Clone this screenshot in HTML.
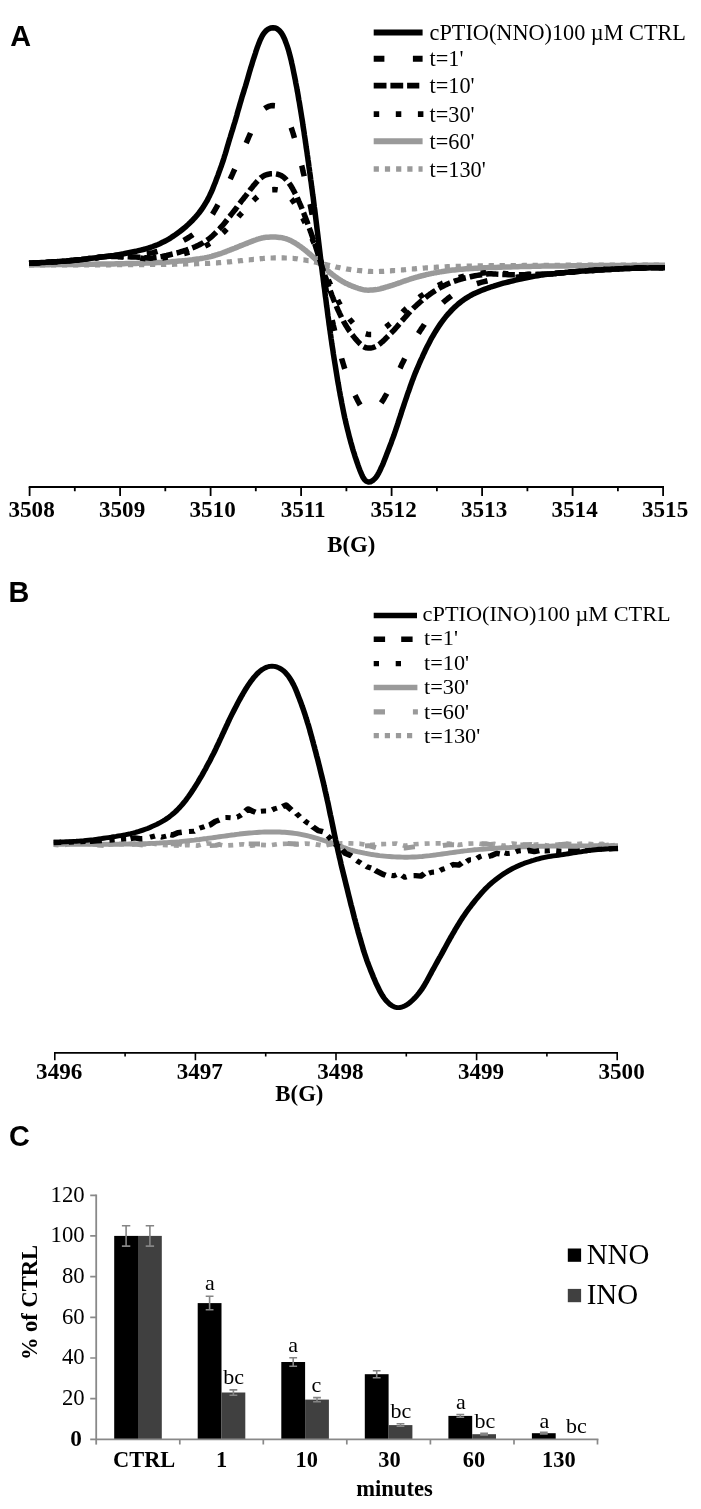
<!DOCTYPE html>
<html lang="en">
<head>
<meta charset="utf-8">
<title>cPTIO EPR spectra and decay</title>
<style>
html,body{margin:0;padding:0;background:#fff;}
body{width:701px;height:1509px;overflow:hidden;}
svg{display:block;}
</style>
</head>
<body>
<svg width="701" height="1509" viewBox="0 0 701 1509">
<rect width="701" height="1509" fill="#fff"/>
<g font-family="'Liberation Sans', sans-serif" font-weight="700" font-size="28.8" fill="#000">
<text x="10.3" y="46">A</text>
<text x="8.5" y="602.3">B</text>
<text x="8.9" y="1146.4">C</text>
</g>
<g id="panelA">
<path d="M29.0 264.9L35.0 264.9L37.5 264.9L40.0 264.9L42.5 264.9L45.0 264.9L47.5 264.9L50.0 264.9L52.5 264.9L55.0 264.9L57.5 264.9L60.0 264.9L62.5 264.9L65.0 264.9L67.5 264.9L70.0 264.9L72.5 264.9L75.0 264.9L77.5 264.9L80.0 264.9L82.5 264.9L85.0 264.8L87.5 264.8L89.9 264.8L92.4 264.8L94.9 264.8L97.4 264.8L99.9 264.8L102.4 264.8L104.9 264.8L107.4 264.8L109.8 264.8L112.3 264.7L114.8 264.7L117.3 264.7L119.8 264.7L122.2 264.7L124.7 264.7L127.2 264.7L129.7 264.7L132.1 264.6L134.6 264.6L137.0 264.6L139.5 264.6L141.9 264.6L144.4 264.6L146.8 264.6L149.2 264.5L151.7 264.5L154.1 264.5L156.5 264.5L158.8 264.4L161.2 264.4L163.5 264.4L165.8 264.4L168.1 264.3L170.3 264.3L172.5 264.3L174.7 264.2L176.8 264.2L178.9 264.1L181.0 264.1L183.1 264.1L185.1 264.0L187.1 264.0L189.0 263.9L191.0 263.9L192.8 263.8L194.7 263.8L196.5 263.7L198.3 263.7L200.0 263.6L201.7 263.6L203.3 263.5L204.9 263.4L206.4 263.4L207.9 263.3L209.3 263.3L210.6 263.2L211.9 263.1L213.2 263.1L214.3 263.0L215.5 262.9L216.5 262.9L217.6 262.8L218.6 262.7L219.5 262.7L220.4 262.6L221.4 262.5L222.2 262.4L223.1 262.4L224.0 262.3L224.8 262.2L225.7 262.2L226.5 262.1L227.4 262.0L228.2 261.9L229.0 261.9L229.8 261.8L230.5 261.7L231.3 261.7L232.0 261.6L232.7 261.5L233.4 261.4L234.1 261.4L234.8 261.3L235.5 261.2L236.3 261.2L237.0 261.1L237.7 261.0L238.5 260.9L239.2 260.9L239.9 260.8L240.7 260.7L241.4 260.7L242.1 260.6L242.8 260.5L243.4 260.4L244.1 260.4L244.8 260.3L245.5 260.2L246.2 260.2L246.9 260.1L247.6 260.0L248.3 259.9L249.1 259.9L249.8 259.8L250.5 259.7L251.3 259.6L252.0 259.6L252.7 259.5L253.4 259.4L254.1 259.4L254.8 259.3L255.5 259.2L256.2 259.1L256.9 259.1L257.7 259.0L258.4 258.9L259.1 258.9L259.9 258.8L260.7 258.7L261.5 258.6L262.2 258.6L263.0 258.5L263.9 258.4L264.8 258.4L265.7 258.3L266.7 258.2L267.9 258.1L269.1 258.1L270.6 258.0L272.3 258.0L274.4 257.9L276.6 257.9L279.0 257.9L281.4 257.9L283.5 257.9L285.4 258.0L287.1 258.0L288.5 258.1L289.6 258.2L290.7 258.2L291.6 258.3L292.5 258.4L293.3 258.4L294.1 258.5L294.8 258.6L295.4 258.7L296.1 258.7L296.7 258.8L297.3 258.9L297.8 259.0L298.4 259.0L298.9 259.1L299.4 259.2L299.9 259.2L300.4 259.3L300.9 259.4L301.4 259.5L301.8 259.5L302.3 259.6L302.8 259.7L303.2 259.8L303.7 259.8L304.1 259.9L304.5 260.0L304.9 260.1L305.4 260.1L305.8 260.2L306.2 260.3L306.6 260.4L307.0 260.4L307.4 260.5L307.8 260.6L308.2 260.7L308.6 260.7L308.9 260.8L309.3 260.9L309.7 260.9L310.1 261.0L310.4 261.1L310.8 261.2L311.2 261.2L311.5 261.3L311.9 261.4L312.2 261.5L312.6 261.5L313.0 261.6L313.3 261.7L313.7 261.8L314.0 261.8L314.4 261.9L314.7 262.0L315.0 262.1L315.4 262.1L315.7 262.2L316.1 262.3L316.4 262.4L316.7 262.4L317.1 262.5L317.4 262.6L317.7 262.7L318.1 262.7L318.4 262.8L318.7 262.9L319.1 263.0L319.4 263.0L319.7 263.1L320.0 263.2L320.3 263.3L320.7 263.3L321.0 263.4L321.3 263.5L321.6 263.6L321.9 263.6L322.2 263.7L322.5 263.8L322.8 263.9L323.1 263.9L323.4 264.0L323.7 264.1L324.0 264.2L324.3 264.2L324.6 264.3L324.9 264.4L325.2 264.4L325.5 264.5L325.8 264.6L326.1 264.7L326.4 264.7L326.7 264.8L327.0 264.9L327.3 265.0L327.6 265.0L327.9 265.1L328.2 265.2L328.5 265.3L328.9 265.3L329.2 265.4L329.5 265.5L329.8 265.6L330.1 265.6L330.5 265.7L330.8 265.8L331.1 265.9L331.4 265.9L331.8 266.0L332.1 266.1L332.4 266.2L332.7 266.2L333.1 266.3L333.4 266.4L333.7 266.5L334.0 266.5L334.4 266.6L334.7 266.7L335.0 266.8L335.4 266.8L335.7 266.9L336.1 267.0L336.4 267.1L336.8 267.1L337.1 267.2L337.5 267.3L337.8 267.4L338.2 267.4L338.6 267.5L339.0 267.6L339.3 267.7L339.7 267.7L340.1 267.8L340.5 267.9L340.9 268.0L341.3 268.0L341.7 268.1L342.1 268.2L342.5 268.2L342.9 268.3L343.3 268.4L343.7 268.5L344.1 268.5L344.6 268.6L345.0 268.7L345.4 268.8L345.9 268.8L346.3 268.9L346.8 269.0L347.3 269.1L347.7 269.1L348.2 269.2L348.7 269.3L349.2 269.4L349.7 269.4L350.2 269.5L350.7 269.6L351.3 269.7L351.8 269.7L352.4 269.8L353.0 269.9L353.6 269.9L354.2 270.0L354.8 270.1L355.4 270.2L356.1 270.2L356.7 270.3L357.4 270.4L358.1 270.5L358.8 270.5L359.5 270.6L360.3 270.7L361.0 270.7L361.8 270.8L362.6 270.9L363.4 271.0L364.2 271.0L365.1 271.1L366.0 271.2L367.0 271.2L368.0 271.3L369.2 271.4L370.6 271.4L372.3 271.5L374.4 271.5L376.5 271.5L378.6 271.5L380.5 271.4L382.2 271.4L383.6 271.3L384.9 271.2L386.1 271.2L387.1 271.1L388.2 271.0L389.2 270.9L390.1 270.9L391.0 270.8L391.9 270.7L392.8 270.7L393.7 270.6L394.6 270.5L395.5 270.5L396.4 270.4L397.3 270.3L398.1 270.3L399.0 270.2L399.9 270.1L400.7 270.0L401.5 270.0L402.3 269.9L403.1 269.8L403.9 269.8L404.6 269.7L405.4 269.6L406.2 269.5L407.0 269.5L407.7 269.4L408.5 269.3L409.3 269.3L410.1 269.2L410.9 269.1L411.7 269.0L412.5 269.0L413.3 268.9L414.1 268.8L415.0 268.8L415.8 268.7L416.6 268.6L417.5 268.5L418.3 268.5L419.2 268.4L420.1 268.3L421.0 268.3L422.0 268.2L422.9 268.1L423.9 268.1L424.9 268.0L425.9 267.9L426.9 267.8L428.0 267.8L429.0 267.7L430.1 267.6L431.1 267.6L432.2 267.5L433.3 267.4L434.5 267.4L435.6 267.3L436.8 267.2L438.0 267.2L439.3 267.1L440.5 267.0L441.8 267.0L443.2 266.9L444.5 266.9L445.9 266.8L447.3 266.7L448.8 266.7L450.3 266.6L451.9 266.5L453.5 266.5L455.2 266.4L456.9 266.4L458.6 266.3L460.4 266.3L462.3 266.2L464.2 266.2L466.1 266.1L468.1 266.1L470.1 266.0L472.2 266.0L474.3 266.0L476.5 265.9L478.7 265.9L481.0 265.8L483.3 265.8L485.6 265.8L487.9 265.8L490.2 265.7L492.6 265.7L495.0 265.7L497.3 265.7L499.7 265.6L502.1 265.6L504.5 265.6L506.9 265.6L509.3 265.5L511.7 265.5L514.2 265.5L516.6 265.5L519.0 265.5L521.5 265.5L523.9 265.4L526.4 265.4L528.8 265.4L531.3 265.4L533.7 265.4L536.2 265.4L538.6 265.3L541.1 265.3L543.6 265.3L546.0 265.3L548.5 265.3L551.0 265.3L553.5 265.3L556.0 265.3L558.5 265.3L561.0 265.3L563.5 265.2L565.9 265.2L568.4 265.2L570.9 265.2L573.4 265.2L575.9 265.2L578.4 265.2L580.9 265.2L583.4 265.2L585.9 265.2L588.4 265.2L590.9 265.2L593.4 265.2L595.9 265.2L598.4 265.2L600.9 265.2L603.4 265.2L605.9 265.1L608.4 265.1L610.9 265.1L613.4 265.1L615.9 265.1L618.4 265.1L620.9 265.1L623.4 265.1L625.9 265.1L628.4 265.1L630.9 265.1L633.4 265.1L635.9 265.1L638.4 265.1L640.9 265.1L643.4 265.1L646.0 265.1L648.5 265.1L651.0 265.1L653.5 265.1L656.0 265.1L658.5 265.1L661.0 265.1L663.5 265.1" fill="none" stroke="#9a9a9a" stroke-width="5.2" stroke-dasharray="5.2 5.8" stroke-linejoin="round"/>
<path d="M29.0 264.8L31.5 264.8L34.0 264.8L36.5 264.7L39.0 264.7L41.5 264.7L44.0 264.7L46.5 264.7L49.0 264.7L51.5 264.6L54.0 264.6L56.5 264.6L59.0 264.6L61.5 264.6L64.0 264.5L66.5 264.5L69.0 264.5L71.5 264.5L74.0 264.4L76.5 264.4L79.0 264.4L81.5 264.3L83.9 264.3L86.4 264.3L88.9 264.2L91.4 264.2L93.9 264.2L96.4 264.1L98.9 264.1L101.4 264.1L103.8 264.0L106.3 264.0L108.8 263.9L111.3 263.9L113.8 263.9L116.2 263.8L118.7 263.8L121.2 263.7L123.7 263.7L126.1 263.6L128.6 263.6L131.0 263.5L133.5 263.4L135.9 263.4L138.4 263.3L140.8 263.2L143.2 263.2L145.7 263.1L148.1 263.0L150.5 262.9L152.8 262.8L155.2 262.7L157.5 262.6L159.8 262.5L162.1 262.4L164.3 262.2L166.5 262.1L168.7 261.9L170.8 261.8L172.9 261.6L175.0 261.5L177.1 261.3L179.1 261.1L181.1 260.9L183.0 260.7L185.0 260.6L186.8 260.4L188.7 260.2L190.5 260.0L192.3 259.8L194.0 259.5L195.7 259.3L197.3 259.1L198.9 258.9L200.4 258.6L201.9 258.4L203.3 258.1L204.6 257.9L205.9 257.6L207.2 257.4L208.3 257.1L209.5 256.9L210.5 256.6L211.6 256.3L212.6 256.0L213.5 255.8L214.4 255.5L215.4 255.2L216.2 254.9L217.1 254.7L218.0 254.4L218.8 254.1L219.7 253.8L220.5 253.6L221.4 253.3L222.2 253.0L223.0 252.7L223.8 252.4L224.5 252.2L225.3 251.9L226.0 251.6L226.7 251.3L227.4 251.0L228.1 250.7L228.8 250.5L229.5 250.2L230.3 249.9L231.0 249.6L231.7 249.3L232.5 249.0L233.2 248.8L233.9 248.5L234.7 248.2L235.4 247.9L236.1 247.6L236.8 247.3L237.4 247.1L238.1 246.8L238.8 246.5L239.5 246.2L240.2 245.9L240.9 245.6L241.6 245.4L242.3 245.1L243.1 244.8L243.8 244.5L244.5 244.2L245.3 243.9L246.0 243.7L246.7 243.4L247.4 243.1L248.1 242.8L248.8 242.5L249.5 242.2L250.2 242.0L250.9 241.7L251.7 241.4L252.4 241.1L253.1 240.8L253.9 240.5L254.7 240.3L255.5 240.0L256.2 239.7L257.0 239.4L257.9 239.1L258.8 238.9L259.7 238.6L260.7 238.3L261.9 238.0L263.1 237.8L264.6 237.5L266.3 237.3L268.4 237.2L270.6 237.0L273.0 237.0L275.4 237.0L277.5 237.2L279.4 237.4L281.1 237.6L282.5 237.8L283.6 238.1L284.7 238.4L285.6 238.6L286.5 238.9L287.3 239.2L288.1 239.5L288.8 239.8L289.4 240.1L290.1 240.3L290.7 240.6L291.3 240.9L291.8 241.2L292.4 241.5L292.9 241.8L293.4 242.1L293.9 242.4L294.4 242.7L294.9 242.9L295.4 243.2L295.8 243.5L296.3 243.8L296.8 244.1L297.2 244.4L297.7 244.7L298.1 245.0L298.5 245.3L298.9 245.6L299.4 245.9L299.8 246.1L300.2 246.4L300.6 246.7L301.0 247.0L301.4 247.3L301.8 247.6L302.2 247.9L302.6 248.2L302.9 248.5L303.3 248.8L303.7 249.1L304.1 249.4L304.4 249.6L304.8 249.9L305.2 250.2L305.5 250.5L305.9 250.8L306.2 251.1L306.6 251.4L307.0 251.7L307.3 252.0L307.7 252.3L308.0 252.6L308.4 252.9L308.7 253.2L309.0 253.5L309.4 253.7L309.7 254.0L310.1 254.3L310.4 254.6L310.7 254.9L311.1 255.2L311.4 255.5L311.7 255.8L312.1 256.1L312.4 256.4L312.7 256.7L313.1 257.0L313.4 257.3L313.7 257.6L314.0 257.8L314.3 258.1L314.7 258.4L315.0 258.7L315.3 259.0L315.6 259.3L315.9 259.6L316.2 259.9L316.5 260.2L316.8 260.5L317.1 260.8L317.4 261.1L317.7 261.4L318.0 261.7L318.3 262.0L318.6 262.2L318.9 262.5L319.2 262.8L319.5 263.1L319.8 263.4L320.1 263.7L320.4 264.0L320.7 264.3L321.0 264.6L321.3 264.9L321.6 265.2L321.9 265.5L322.2 265.8L322.5 266.0L322.9 266.3L323.2 266.6L323.5 266.9L323.8 267.2L324.1 267.5L324.5 267.8L324.8 268.1L325.1 268.4L325.4 268.6L325.8 268.9L326.1 269.2L326.4 269.5L326.7 269.8L327.1 270.1L327.4 270.4L327.7 270.7L328.0 270.9L328.4 271.2L328.7 271.5L329.0 271.8L329.4 272.1L329.7 272.4L330.1 272.7L330.4 273.0L330.8 273.2L331.1 273.5L331.5 273.8L331.8 274.1L332.2 274.4L332.6 274.7L333.0 275.0L333.3 275.3L333.7 275.5L334.1 275.8L334.5 276.1L334.9 276.4L335.3 276.7L335.7 277.0L336.1 277.3L336.5 277.6L336.9 277.8L337.3 278.1L337.7 278.4L338.1 278.7L338.6 279.0L339.0 279.3L339.4 279.6L339.9 279.8L340.3 280.1L340.8 280.4L341.3 280.7L341.7 281.0L342.2 281.3L342.7 281.6L343.2 281.8L343.7 282.1L344.2 282.4L344.7 282.7L345.3 283.0L345.8 283.3L346.4 283.5L347.0 283.8L347.6 284.1L348.2 284.4L348.8 284.7L349.4 285.0L350.1 285.2L350.7 285.5L351.4 285.8L352.1 286.1L352.8 286.4L353.5 286.6L354.3 286.9L355.0 287.2L355.8 287.5L356.6 287.7L357.4 288.0L358.2 288.3L359.1 288.6L360.0 288.8L361.0 289.1L362.0 289.4L363.2 289.7L364.6 289.9L366.3 290.1L368.4 290.2L370.5 290.1L372.6 290.0L374.5 289.8L376.2 289.6L377.6 289.4L378.9 289.1L380.1 288.8L381.1 288.5L382.2 288.3L383.2 288.0L384.1 287.7L385.0 287.5L385.9 287.2L386.8 286.9L387.7 286.7L388.6 286.4L389.5 286.1L390.4 285.8L391.3 285.6L392.1 285.3L393.0 285.0L393.9 284.8L394.7 284.5L395.5 284.2L396.3 283.9L397.1 283.7L397.9 283.4L398.6 283.1L399.4 282.8L400.2 282.6L401.0 282.3L401.7 282.0L402.5 281.7L403.3 281.4L404.1 281.2L404.9 280.9L405.7 280.6L406.5 280.3L407.3 280.1L408.1 279.8L409.0 279.5L409.8 279.2L410.6 279.0L411.5 278.7L412.3 278.4L413.2 278.2L414.1 277.9L415.0 277.6L416.0 277.3L416.9 277.1L417.9 276.8L418.9 276.5L419.9 276.3L420.9 276.0L422.0 275.7L423.0 275.5L424.1 275.2L425.1 275.0L426.2 274.7L427.3 274.4L428.5 274.2L429.6 273.9L430.8 273.7L432.0 273.4L433.3 273.2L434.5 272.9L435.8 272.7L437.2 272.4L438.5 272.2L439.9 271.9L441.3 271.7L442.8 271.4L444.3 271.2L445.9 271.0L447.5 270.8L449.2 270.5L450.9 270.3L452.6 270.1L454.4 269.9L456.3 269.7L458.2 269.5L460.1 269.3L462.1 269.2L464.1 269.0L466.2 268.8L468.3 268.7L470.5 268.5L472.7 268.4L475.0 268.3L477.3 268.2L479.6 268.0L481.9 267.9L484.2 267.8L486.6 267.7L489.0 267.6L491.3 267.5L493.7 267.4L496.1 267.4L498.5 267.3L500.9 267.2L503.3 267.1L505.7 267.0L508.2 267.0L510.6 266.9L513.0 266.8L515.5 266.8L517.9 266.7L520.4 266.6L522.8 266.6L525.3 266.5L527.7 266.5L530.2 266.4L532.6 266.3L535.1 266.3L537.6 266.2L540.0 266.2L542.5 266.1L545.0 266.1L547.5 266.1L550.0 266.0L552.5 266.0L555.0 266.0L557.5 266.0L559.9 265.9L562.4 265.9L564.9 265.9L567.4 265.9L569.9 265.8L572.4 265.8L574.9 265.8L577.4 265.8L579.9 265.7L582.4 265.7L584.9 265.7L587.4 265.7L589.9 265.6L592.4 265.6L594.9 265.6L597.4 265.6L599.9 265.6L602.4 265.6L604.9 265.5L607.4 265.5L609.9 265.5L612.4 265.5L614.9 265.5L617.4 265.5L619.9 265.4L622.4 265.4L624.9 265.4L627.4 265.4L629.9 265.4L632.4 265.4L634.9 265.4L637.4 265.4L640.0 265.4L642.5 265.3L645.0 265.3L647.5 265.3L650.0 265.3L652.5 265.3L655.0 265.3L657.5 265.3L660.0 265.3L662.5 265.3L665.0 265.3" fill="none" stroke="#9a9a9a" stroke-width="5.5" stroke-linejoin="round"/>
<path d="M29.0 263.3L30.0 263.3L32.5 263.2L35.0 263.0L37.5 262.9L40.0 262.7L42.5 262.6L45.0 262.4L47.5 262.3L50.0 262.1L52.5 262.0L55.0 261.8L57.5 261.7L60.0 261.5L62.5 261.3L65.0 261.2L67.5 261.0L70.0 260.7L72.5 260.5L75.0 260.3L77.5 260.0L80.0 259.7L82.5 259.5L84.9 259.2L87.4 258.9L89.9 258.6L92.4 258.3L94.9 258.0L97.4 257.7L99.9 257.3L102.4 257.0L104.8 256.7L107.3 256.6L109.8 256.6L112.3 256.6L114.8 256.7L117.2 256.7L119.7 256.8L122.2 256.9L124.7 256.9L127.1 257.1L129.6 257.2L132.0 257.3L134.5 257.5L136.9 257.7L139.4 257.9L141.8 258.2L144.2 258.5L146.7 258.8L149.1 259.1L151.5 259.4L153.8 259.1L156.2 258.8L158.5 258.5L160.8 258.2L163.1 257.9L165.3 257.5L167.5 257.1L169.7 256.7L171.8 256.3L173.9 255.9L176.0 255.5L178.1 255.0L180.1 254.5L182.1 254.0L184.0 253.5L186.0 253.0L187.8 252.5L189.7 252.0L191.5 251.4L193.3 250.9L195.0 250.3L196.7 249.7L198.3 249.1L199.9 248.5L201.4 247.8L202.9 247.2L204.3 246.5L205.6 245.8L206.9 245.2L208.2 244.5L209.3 243.8L210.5 243.1L211.5 242.3L212.6 241.6L213.6 240.9L214.5 240.1L215.4 239.4L216.4 238.7L217.2 237.9L218.1 237.2L219.0 236.4L219.8 235.7L220.7 234.9L221.5 234.2L222.4 233.4L223.2 232.7L224.0 231.9L224.8 231.2L225.5 230.4L226.3 229.6L227.0 228.9L227.7 228.1L228.4 227.3L229.1 226.6L229.8 225.8L230.5 225.1L231.3 224.3L232.0 223.5L232.7 222.8L233.5 222.0L234.2 221.2L234.9 220.5L235.7 219.7L236.4 219.0L237.1 218.2L237.8 217.4L238.4 216.7L239.1 215.9L239.8 215.1L240.5 214.4L241.2 213.6L241.9 212.8L242.6 212.1L243.3 211.3L244.1 210.5L244.8 209.8L245.5 209.0L246.3 208.3L247.0 207.5L247.7 206.7L248.4 206.0L249.1 205.2L249.8 204.4L250.5 203.7L251.2 202.9L251.9 202.1L252.7 201.4L253.4 200.6L254.1 199.9L254.9 199.1L255.7 198.3L256.5 197.6L257.2 196.8L258.0 196.1L258.9 195.3L259.8 194.6L260.7 193.8L261.7 193.1L262.9 192.4L264.1 191.7L265.6 191.0L267.3 190.4L269.4 190.0L271.6 189.7L274.0 189.6L276.4 189.7L278.5 190.0L280.4 190.5L282.1 191.1L283.5 191.8L284.6 192.5L285.7 193.2L286.6 194.0L287.5 194.7L288.3 195.5L289.1 196.3L289.8 197.0L290.4 197.8L291.1 198.6L291.7 199.3L292.3 200.1L292.8 200.9L293.4 201.7L293.9 202.4L294.4 203.2L294.9 204.0L295.4 204.8L295.9 205.6L296.4 206.3L296.8 207.1L297.3 207.9L297.8 208.7L298.2 209.5L298.7 210.3L299.1 211.0L299.5 211.8L299.9 212.6L300.4 213.4L300.8 214.2L301.2 215.0L301.6 215.8L302.0 216.5L302.4 217.3L302.8 218.1L303.2 218.9L303.6 219.7L303.9 220.5L304.3 221.3L304.7 222.1L305.1 222.8L305.4 223.6L305.8 224.4L306.2 225.2L306.5 226.0L306.9 226.8L307.2 227.6L307.6 228.4L308.0 229.1L308.3 229.9L308.7 230.7L309.0 231.5L309.4 232.3L309.7 233.1L310.0 233.9L310.4 234.7L310.7 235.5L311.1 236.2L311.4 237.0L311.7 237.8L312.1 238.6L312.4 239.4L312.7 240.2L313.1 241.0L313.4 241.8L313.7 242.6L314.1 243.4L314.4 244.1L314.7 244.9L315.0 245.7L315.3 246.5L315.7 247.3L316.0 248.1L316.3 248.9L316.6 249.7L316.9 250.5L317.2 251.3L317.5 252.1L317.8 252.8L318.1 253.6L318.4 254.4L318.7 255.2L319.0 256.0L319.3 256.8L319.6 257.6L319.9 258.4L320.2 259.2L320.5 260.0L320.8 260.8L321.1 261.5L321.4 262.3L321.7 263.1L322.0 263.9L322.3 264.7L322.6 265.5L322.9 266.3L323.2 267.1L323.5 267.9L323.9 268.7L324.2 269.5L324.5 270.3L324.8 271.1L325.1 271.9L325.5 272.7L325.8 273.5L326.1 274.2L326.4 275.0L326.8 275.8L327.1 276.6L327.4 277.4L327.7 278.2L328.1 279.0L328.4 279.8L328.7 280.6L329.0 281.4L329.4 282.2L329.7 283.0L330.0 283.8L330.4 284.6L330.7 285.4L331.1 286.2L331.4 287.0L331.8 287.8L332.1 288.5L332.5 289.3L332.8 290.1L333.2 290.9L333.6 291.7L334.0 292.5L334.3 293.3L334.7 294.1L335.1 294.9L335.5 295.7L335.9 296.5L336.3 297.3L336.7 298.1L337.1 298.8L337.5 299.6L337.9 300.4L338.3 301.2L338.7 302.0L339.1 302.8L339.6 303.6L340.0 304.4L340.4 305.2L340.9 306.0L341.3 306.7L341.8 307.5L342.3 308.3L342.7 309.1L343.2 309.9L343.7 310.7L344.2 311.5L344.7 312.3L345.2 313.0L345.7 313.8L346.3 314.6L346.8 315.4L347.4 316.2L348.0 316.9L348.6 317.7L349.2 318.5L349.8 319.3L350.4 320.1L351.1 320.8L351.7 321.6L352.4 322.4L353.1 323.2L353.8 323.9L354.5 324.7L355.3 325.5L356.0 326.2L356.8 327.0L357.6 327.7L358.4 328.5L359.2 329.2L360.1 330.0L361.0 330.8L362.0 331.5L363.0 332.3L364.2 333.1L365.6 333.7L367.3 334.2L369.4 334.4L371.5 334.4L373.6 334.0L375.5 333.5L377.2 332.9L378.6 332.2L379.9 331.4L381.1 330.7L382.1 329.9L383.2 329.2L384.2 328.5L385.1 327.7L386.0 327.0L386.9 326.2L387.8 325.5L388.7 324.8L389.6 324.0L390.5 323.3L391.4 322.5L392.3 321.8L393.1 321.0L394.0 320.3L394.9 319.5L395.7 318.7L396.5 318.0L397.3 317.2L398.1 316.5L398.9 315.7L399.6 314.9L400.4 314.2L401.2 313.4L402.0 312.7L402.7 311.9L403.5 311.1L404.3 310.4L405.1 309.6L405.9 308.8L406.7 308.1L407.5 307.3L408.3 306.6L409.1 305.8L410.0 305.1L410.8 304.3L411.6 303.5L412.5 302.8L413.3 302.0L414.2 301.3L415.1 300.5L416.0 299.8L417.0 299.0L417.9 298.3L418.9 297.6L419.9 296.8L420.9 296.1L421.9 295.4L423.0 294.6L424.0 293.9L425.1 293.2L426.1 292.5L427.2 291.7L428.3 291.0L429.5 290.3L430.6 289.6L431.8 288.9L433.0 288.2L434.3 287.5L435.5 286.8L436.8 286.1L438.2 285.4L439.5 284.8L440.9 284.1L442.3 283.4L443.8 282.8L445.3 282.1L446.9 281.5L448.5 280.9L450.2 280.3L451.9 279.7L453.6 279.1L455.4 278.6L457.3 278.0L459.2 277.5L461.1 277.0L463.1 276.5L465.1 276.0L467.2 275.6L469.3 275.2L471.5 274.8L473.7 274.4L476.0 274.0L478.3 273.7L480.6 273.4L482.9 273.1L485.2 272.8L487.6 272.5L490.0 272.2L492.3 272.3L494.7 272.6L497.1 272.9L499.5 273.2L501.9 273.4L504.3 273.6L506.7 273.8L509.2 273.9L511.6 274.1L514.0 274.2L516.5 274.3L518.9 274.3L521.4 274.4L523.8 274.4L526.3 274.4L528.7 274.3L531.2 274.3L533.6 274.3L536.1 274.2L538.6 274.2L541.0 274.1L543.5 274.1L546.0 274.0L548.5 274.0L551.0 274.0L553.5 273.7L556.0 273.5L558.5 273.2L560.9 273.0L563.4 272.8L565.9 272.6L568.4 272.3L570.9 272.1L573.4 271.9L575.9 271.7L578.4 271.5L580.9 271.3L583.4 271.1L585.9 270.9L588.4 270.8L590.9 270.6L593.4 270.4L595.9 270.2L598.4 270.1L600.9 269.9L603.4 269.8L605.9 269.6L608.4 269.5L610.9 269.4L613.4 269.2L615.9 269.1L618.4 268.9L620.9 268.8L623.4 268.7L625.9 268.6L628.4 268.5L630.9 268.4L633.4 268.3L635.9 268.2L638.4 268.1L641.0 268.0L643.5 268.0L646.0 267.9L648.5 267.9L651.0 267.8L653.5 267.8L656.0 267.8L658.5 267.8L661.0 267.7L663.5 267.7" fill="none" stroke="#000" stroke-width="5.5" stroke-dasharray="5.5 16.8" stroke-linejoin="round"/>
<path d="M29.0 263.3L31.5 263.2L34.0 263.0L36.5 262.9L39.0 262.7L41.5 262.6L44.0 262.4L46.5 262.3L49.0 262.1L51.5 262.0L54.0 261.8L56.5 261.7L59.0 261.5L61.5 261.3L64.0 261.2L66.5 261.0L69.0 260.7L71.5 260.5L74.0 260.3L76.5 260.0L79.0 259.7L81.5 259.5L83.9 259.2L86.4 258.9L88.9 258.6L91.4 258.3L93.9 258.0L96.4 257.7L98.9 257.3L101.4 257.0L103.8 256.7L106.3 256.6L108.8 256.5L111.3 256.5L113.8 256.5L116.2 256.5L118.7 256.6L121.2 256.6L123.7 256.6L126.1 256.7L128.6 256.8L131.0 256.9L133.5 257.0L135.9 257.1L138.4 257.2L140.8 257.4L143.2 257.6L145.7 257.8L148.1 258.0L150.5 258.2L152.8 257.9L155.2 257.5L157.5 257.2L159.8 256.8L162.1 256.4L164.3 255.9L166.5 255.5L168.7 255.0L170.8 254.5L172.9 254.0L175.0 253.4L177.1 252.9L179.1 252.3L181.1 251.7L183.0 251.1L185.0 250.5L186.8 249.9L188.7 249.2L190.5 248.6L192.3 247.9L194.0 247.2L195.7 246.5L197.3 245.7L198.9 245.0L200.4 244.2L201.9 243.4L203.3 242.6L204.6 241.8L205.9 241.0L207.2 240.1L208.3 239.3L209.5 238.4L210.5 237.6L211.6 236.7L212.6 235.8L213.5 234.9L214.4 234.0L215.4 233.1L216.2 232.2L217.1 231.3L218.0 230.4L218.8 229.5L219.7 228.6L220.5 227.7L221.4 226.8L222.2 225.9L223.0 224.9L223.8 224.0L224.5 223.1L225.3 222.2L226.0 221.3L226.7 220.3L227.4 219.4L228.1 218.5L228.8 217.6L229.5 216.6L230.3 215.7L231.0 214.8L231.7 213.9L232.5 212.9L233.2 212.0L233.9 211.1L234.7 210.2L235.4 209.3L236.1 208.3L236.8 207.4L237.4 206.5L238.1 205.5L238.8 204.6L239.5 203.7L240.2 202.8L240.9 201.8L241.6 200.9L242.3 200.0L243.1 199.1L243.8 198.1L244.5 197.2L245.3 196.3L246.0 195.4L246.7 194.5L247.4 193.5L248.1 192.6L248.8 191.7L249.5 190.8L250.2 189.8L250.9 188.9L251.7 188.0L252.4 187.1L253.1 186.1L253.9 185.2L254.7 184.3L255.5 183.4L256.2 182.5L257.0 181.6L257.9 180.6L258.8 179.7L259.7 178.8L260.7 177.9L261.9 177.1L263.1 176.2L264.6 175.4L266.3 174.7L268.4 174.2L270.6 173.8L273.0 173.7L275.4 173.8L277.5 174.2L279.4 174.8L281.1 175.5L282.5 176.3L283.6 177.2L284.7 178.1L285.6 179.0L286.5 179.9L287.3 180.9L288.1 181.8L288.8 182.7L289.4 183.6L290.1 184.6L290.7 185.5L291.3 186.4L291.8 187.4L292.4 188.3L292.9 189.3L293.4 190.2L293.9 191.1L294.4 192.1L294.9 193.0L295.4 194.0L295.8 194.9L296.3 195.9L296.8 196.8L297.2 197.8L297.7 198.7L298.1 199.7L298.5 200.6L298.9 201.6L299.4 202.5L299.8 203.5L300.2 204.4L300.6 205.4L301.0 206.3L301.4 207.3L301.8 208.2L302.2 209.2L302.6 210.1L302.9 211.1L303.3 212.1L303.7 213.0L304.1 214.0L304.4 214.9L304.8 215.9L305.2 216.8L305.5 217.8L305.9 218.7L306.2 219.7L306.6 220.6L307.0 221.6L307.3 222.5L307.7 223.5L308.0 224.5L308.4 225.4L308.7 226.4L309.0 227.3L309.4 228.3L309.7 229.2L310.1 230.2L310.4 231.1L310.7 232.1L311.1 233.1L311.4 234.0L311.7 235.0L312.1 235.9L312.4 236.9L312.7 237.8L313.1 238.8L313.4 239.8L313.7 240.7L314.0 241.7L314.3 242.6L314.7 243.6L315.0 244.5L315.3 245.5L315.6 246.5L315.9 247.4L316.2 248.4L316.5 249.3L316.8 250.3L317.1 251.2L317.4 252.2L317.7 253.2L318.0 254.1L318.3 255.1L318.6 256.0L318.9 257.0L319.2 257.9L319.5 258.9L319.8 259.9L320.1 260.8L320.4 261.8L320.7 262.7L321.0 263.7L321.3 264.6L321.6 265.6L321.9 266.5L322.2 267.5L322.5 268.5L322.9 269.4L323.2 270.4L323.5 271.3L323.8 272.3L324.1 273.2L324.5 274.2L324.8 275.1L325.1 276.1L325.4 277.0L325.8 278.0L326.1 278.9L326.4 279.9L326.7 280.8L327.1 281.8L327.4 282.7L327.7 283.7L328.0 284.6L328.4 285.6L328.7 286.5L329.0 287.5L329.4 288.4L329.7 289.4L330.1 290.3L330.4 291.3L330.8 292.2L331.1 293.2L331.5 294.1L331.8 295.1L332.2 296.0L332.6 297.0L333.0 297.9L333.3 298.9L333.7 299.8L334.1 300.8L334.5 301.7L334.9 302.7L335.3 303.6L335.7 304.6L336.1 305.5L336.5 306.5L336.9 307.4L337.3 308.4L337.7 309.3L338.1 310.2L338.6 311.2L339.0 312.1L339.4 313.1L339.9 314.0L340.3 315.0L340.8 315.9L341.3 316.9L341.7 317.8L342.2 318.7L342.7 319.7L343.2 320.6L343.7 321.6L344.2 322.5L344.7 323.4L345.3 324.4L345.8 325.3L346.4 326.2L347.0 327.2L347.6 328.1L348.2 329.0L348.8 330.0L349.4 330.9L350.1 331.8L350.7 332.8L351.4 333.7L352.1 334.6L352.8 335.5L353.5 336.4L354.3 337.4L355.0 338.3L355.8 339.2L356.6 340.1L357.4 341.0L358.2 341.9L359.1 342.8L360.0 343.7L361.0 344.6L362.0 345.6L363.2 346.5L364.6 347.2L366.3 347.8L368.4 348.1L370.5 348.0L372.6 347.6L374.5 347.0L376.2 346.2L377.6 345.4L378.9 344.5L380.1 343.6L381.1 342.7L382.2 341.8L383.2 341.0L384.1 340.1L385.0 339.2L385.9 338.3L386.8 337.4L387.7 336.5L388.6 335.6L389.5 334.7L390.4 333.8L391.3 332.9L392.1 332.0L393.0 331.1L393.9 330.2L394.7 329.3L395.5 328.4L396.3 327.5L397.1 326.6L397.9 325.7L398.6 324.8L399.4 323.9L400.2 322.9L401.0 322.0L401.7 321.1L402.5 320.2L403.3 319.3L404.1 318.4L404.9 317.5L405.7 316.6L406.5 315.7L407.3 314.8L408.1 313.8L409.0 312.9L409.8 312.0L410.6 311.1L411.5 310.2L412.3 309.3L413.2 308.4L414.1 307.5L415.0 306.6L416.0 305.8L416.9 304.9L417.9 304.0L418.9 303.1L419.9 302.2L420.9 301.3L422.0 300.5L423.0 299.6L424.1 298.7L425.1 297.9L426.2 297.0L427.3 296.1L428.5 295.3L429.6 294.4L430.8 293.6L432.0 292.7L433.3 291.9L434.5 291.1L435.8 290.3L437.2 289.4L438.5 288.6L439.9 287.8L441.3 287.1L442.8 286.3L444.3 285.5L445.9 284.8L447.5 284.0L449.2 283.3L450.9 282.6L452.6 281.9L454.4 281.2L456.3 280.6L458.2 280.0L460.1 279.3L462.1 278.8L464.1 278.2L466.2 277.7L468.3 277.2L470.5 276.7L472.7 276.2L475.0 275.8L477.3 275.4L479.6 275.0L481.9 274.7L484.2 274.3L486.6 274.0L489.0 273.7L491.3 273.7L493.7 273.9L496.1 274.1L498.5 274.2L500.9 274.4L503.3 274.5L505.7 274.6L508.2 274.7L510.6 274.7L513.0 274.8L515.5 274.8L517.9 274.8L520.4 274.8L522.8 274.8L525.3 274.7L527.7 274.6L530.2 274.6L532.6 274.5L535.1 274.4L537.6 274.3L540.0 274.2L542.5 274.1L545.0 274.1L547.5 274.0L550.0 274.0L552.5 273.7L555.0 273.5L557.5 273.2L559.9 273.0L562.4 272.8L564.9 272.6L567.4 272.3L569.9 272.1L572.4 271.9L574.9 271.7L577.4 271.5L579.9 271.3L582.4 271.1L584.9 270.9L587.4 270.8L589.9 270.6L592.4 270.4L594.9 270.2L597.4 270.1L599.9 269.9L602.4 269.8L604.9 269.6L607.4 269.5L609.9 269.4L612.4 269.2L614.9 269.1L617.4 268.9L619.9 268.8L622.4 268.7L624.9 268.6L627.4 268.5L629.9 268.4L632.4 268.3L634.9 268.2L637.4 268.1L640.0 268.0L642.5 268.0L645.0 267.9L647.5 267.9L650.0 267.8L652.5 267.8L655.0 267.8L657.5 267.8L660.0 267.7L662.5 267.7L665.0 267.7" fill="none" stroke="#000" stroke-width="5.5" stroke-dasharray="12.5 4" stroke-linejoin="round"/>
<path d="M29.0 263.3L31.5 263.2L34.0 263.0L36.5 262.9L39.0 262.7L41.5 262.6L44.0 262.4L46.5 262.3L49.0 262.1L51.5 262.0L54.0 261.8L56.5 261.7L59.0 261.5L61.5 261.3L64.0 261.2L66.5 261.0L69.0 260.7L71.5 260.5L74.0 260.3L76.5 260.0L79.0 259.7L81.5 259.5L83.9 259.2L86.4 258.9L88.9 258.6L91.4 258.3L93.9 258.0L96.4 257.7L98.9 257.3L101.4 257.0L103.8 256.7L106.3 256.5L108.8 256.3L111.3 256.2L113.8 256.0L116.2 255.8L118.7 255.7L121.2 255.5L123.7 255.3L126.1 255.1L128.6 254.9L131.0 254.7L133.5 254.6L135.9 254.4L138.4 254.2L140.8 254.0L143.2 253.8L145.7 253.6L148.1 253.4L150.5 253.1L152.8 252.6L155.2 252.0L157.5 251.4L159.8 250.7L162.1 250.0L164.3 249.2L166.5 248.4L168.7 247.6L170.8 246.7L172.9 245.8L175.0 244.8L177.1 243.9L179.1 242.9L181.1 241.8L183.0 240.8L185.0 239.7L186.8 238.6L188.7 237.5L190.5 236.3L192.3 235.1L194.0 233.9L195.7 232.6L197.3 231.3L198.9 230.0L200.4 228.7L201.9 227.3L203.3 225.9L204.6 224.5L205.9 223.1L207.2 221.6L208.3 220.1L209.5 218.6L210.5 217.1L211.6 215.6L212.6 214.0L213.5 212.5L214.4 210.9L215.4 209.3L216.2 207.8L217.1 206.2L218.0 204.6L218.8 203.0L219.7 201.4L220.5 199.9L221.4 198.3L222.2 196.7L223.0 195.1L223.8 193.5L224.5 191.9L225.3 190.3L226.0 188.7L226.7 187.0L227.4 185.4L228.1 183.8L228.8 182.2L229.5 180.6L230.3 179.0L231.0 177.4L231.7 175.8L232.5 174.1L233.2 172.5L233.9 170.9L234.7 169.3L235.4 167.7L236.1 166.1L236.8 164.5L237.4 162.8L238.1 161.2L238.8 159.6L239.5 158.0L240.2 156.4L240.9 154.7L241.6 153.1L242.3 151.5L243.1 149.9L243.8 148.3L244.5 146.7L245.3 145.1L246.0 143.5L246.7 141.9L247.4 140.3L248.1 138.6L248.8 137.0L249.5 135.4L250.2 133.8L250.9 132.2L251.7 130.6L252.4 128.9L253.1 127.3L253.9 125.7L254.7 124.1L255.5 122.5L256.2 120.9L257.0 119.3L257.9 117.8L258.8 116.2L259.7 114.6L260.7 113.1L261.9 111.5L263.1 110.0L264.6 108.6L266.3 107.4L268.4 106.4L270.6 105.8L273.0 105.6L275.4 105.8L277.5 106.5L279.4 107.5L281.1 108.8L282.5 110.3L283.6 111.8L284.7 113.4L285.6 114.9L286.5 116.5L287.3 118.1L288.1 119.7L288.8 121.3L289.4 123.0L290.1 124.6L290.7 126.2L291.3 127.9L291.8 129.5L292.4 131.2L292.9 132.8L293.4 134.4L293.9 136.1L294.4 137.7L294.9 139.4L295.4 141.0L295.8 142.7L296.3 144.4L296.8 146.0L297.2 147.7L297.7 149.3L298.1 151.0L298.5 152.6L298.9 154.3L299.4 156.0L299.8 157.6L300.2 159.3L300.6 160.9L301.0 162.6L301.4 164.3L301.8 165.9L302.2 167.6L302.6 169.3L302.9 170.9L303.3 172.6L303.7 174.2L304.1 175.9L304.4 177.6L304.8 179.2L305.2 180.9L305.5 182.6L305.9 184.2L306.2 185.9L306.6 187.6L307.0 189.2L307.3 190.9L307.7 192.6L308.0 194.2L308.4 195.9L308.7 197.6L309.0 199.2L309.4 200.9L309.7 202.6L310.1 204.2L310.4 205.9L310.7 207.6L311.1 209.2L311.4 210.9L311.7 212.6L312.1 214.3L312.4 215.9L312.7 217.6L313.1 219.3L313.4 220.9L313.7 222.6L314.0 224.3L314.3 225.9L314.7 227.6L315.0 229.3L315.3 231.0L315.6 232.6L315.9 234.3L316.2 236.0L316.5 237.6L316.8 239.3L317.1 241.0L317.4 242.6L317.7 244.3L318.0 246.0L318.3 247.7L318.6 249.3L318.9 251.0L319.2 252.7L319.5 254.3L319.8 256.0L320.1 257.7L320.4 259.4L320.7 261.0L321.0 262.7L321.3 264.4L321.6 266.1L321.9 267.8L322.2 269.4L322.5 271.1L322.9 272.8L323.2 274.5L323.5 276.2L323.8 277.9L324.1 279.6L324.5 281.3L324.8 283.0L325.1 284.6L325.4 286.3L325.8 288.0L326.1 289.7L326.4 291.4L326.7 293.1L327.1 294.8L327.4 296.5L327.7 298.2L328.0 299.8L328.4 301.5L328.7 303.2L329.0 304.9L329.4 306.6L329.7 308.3L330.1 310.0L330.4 311.7L330.8 313.3L331.1 315.0L331.5 316.7L331.8 318.4L332.2 320.1L332.6 321.8L333.0 323.5L333.3 325.1L333.7 326.8L334.1 328.5L334.5 330.2L334.9 331.9L335.3 333.6L335.7 335.2L336.1 336.9L336.5 338.6L336.9 340.3L337.3 342.0L337.7 343.6L338.1 345.3L338.6 347.0L339.0 348.7L339.4 350.4L339.9 352.0L340.3 353.7L340.8 355.4L341.3 357.1L341.7 358.7L342.2 360.4L342.7 362.1L343.2 363.7L343.7 365.4L344.2 367.1L344.7 368.7L345.3 370.4L345.8 372.1L346.4 373.7L347.0 375.4L347.6 377.0L348.2 378.7L348.8 380.4L349.4 382.0L350.1 383.7L350.7 385.3L351.4 386.9L352.1 388.6L352.8 390.2L353.5 391.9L354.3 393.5L355.0 395.1L355.8 396.7L356.6 398.3L357.4 399.9L358.2 401.5L359.1 403.1L360.0 404.7L361.0 406.4L362.0 408.0L363.2 409.6L364.6 411.0L366.3 412.0L368.4 412.6L370.5 412.4L372.6 411.6L374.5 410.5L376.2 409.2L377.6 407.7L378.9 406.2L380.1 404.6L381.1 403.0L382.2 401.4L383.2 399.9L384.1 398.3L385.0 396.7L385.9 395.1L386.8 393.6L387.7 392.0L388.6 390.4L389.5 388.8L390.4 387.2L391.3 385.6L392.1 384.0L393.0 382.4L393.9 380.8L394.7 379.2L395.5 377.6L396.3 376.0L397.1 374.4L397.9 372.7L398.6 371.1L399.4 369.5L400.2 367.9L401.0 366.3L401.7 364.6L402.5 363.0L403.3 361.4L404.1 359.8L404.9 358.2L405.7 356.6L406.5 355.0L407.3 353.3L408.1 351.7L409.0 350.1L409.8 348.5L410.6 346.9L411.5 345.3L412.3 343.7L413.2 342.1L414.1 340.5L415.0 338.9L416.0 337.4L416.9 335.8L417.9 334.2L418.9 332.6L419.9 331.1L420.9 329.5L422.0 328.0L423.0 326.4L424.1 324.9L425.1 323.3L426.2 321.8L427.3 320.3L428.5 318.8L429.6 317.3L430.8 315.8L432.0 314.3L433.3 312.8L434.5 311.3L435.8 309.9L437.2 308.4L438.5 307.0L439.9 305.6L441.3 304.2L442.8 302.8L444.3 301.4L445.9 300.1L447.5 298.8L449.2 297.5L450.9 296.3L452.6 295.0L454.4 293.8L456.3 292.7L458.2 291.6L460.1 290.5L462.1 289.4L464.1 288.4L466.2 287.5L468.3 286.6L470.5 285.7L472.7 285.0L475.0 284.2L477.3 283.5L479.6 282.8L481.9 282.2L484.2 281.6L486.6 281.0L489.0 280.4L491.3 280.0L493.7 279.7L496.1 279.5L498.5 279.2L500.9 279.0L503.3 278.7L505.7 278.4L508.2 278.2L510.6 277.9L513.0 277.7L515.5 277.4L517.9 277.1L520.4 276.9L522.8 276.6L525.3 276.3L527.7 276.0L530.2 275.7L532.6 275.5L535.1 275.2L537.6 275.0L540.0 274.7L542.5 274.5L545.0 274.3L547.5 274.1L550.0 274.0L552.5 273.7L555.0 273.5L557.5 273.2L559.9 273.0L562.4 272.8L564.9 272.6L567.4 272.3L569.9 272.1L572.4 271.9L574.9 271.7L577.4 271.5L579.9 271.3L582.4 271.1L584.9 270.9L587.4 270.8L589.9 270.6L592.4 270.4L594.9 270.2L597.4 270.1L599.9 269.9L602.4 269.8L604.9 269.6L607.4 269.5L609.9 269.4L612.4 269.2L614.9 269.1L617.4 268.9L619.9 268.8L622.4 268.7L624.9 268.6L627.4 268.5L629.9 268.4L632.4 268.3L634.9 268.2L637.4 268.1L640.0 268.0L642.5 268.0L645.0 267.9L647.5 267.9L650.0 267.8L652.5 267.8L655.0 267.8L657.5 267.8L660.0 267.7L662.5 267.7L665.0 267.7" fill="none" stroke="#000" stroke-width="5.5" stroke-dasharray="11 28.4" stroke-linejoin="round"/>
<path d="M29.0 263.3L31.5 263.2L34.0 263.0L36.5 262.9L39.0 262.7L41.5 262.6L44.0 262.4L46.5 262.3L49.0 262.1L51.5 262.0L54.0 261.8L56.5 261.7L59.0 261.5L61.5 261.3L64.0 261.2L66.5 261.0L69.0 260.7L71.5 260.5L74.0 260.3L76.5 260.0L79.0 259.7L81.5 259.5L83.9 259.2L86.4 258.9L88.9 258.6L91.4 258.3L93.9 258.0L96.4 257.7L98.9 257.3L101.4 257.0L103.8 256.7L106.3 256.4L108.8 256.1L111.3 255.7L113.8 255.4L116.2 255.0L118.7 254.6L121.2 254.2L123.7 253.8L126.1 253.3L128.6 252.8L131.0 252.3L133.5 251.8L135.9 251.3L138.4 250.7L140.8 250.1L143.2 249.5L145.7 248.8L148.1 248.1L150.5 247.3L152.8 246.5L155.2 245.6L157.5 244.7L159.8 243.7L162.1 242.6L164.3 241.5L166.5 240.3L168.7 239.1L170.8 237.8L172.9 236.4L175.0 235.0L177.1 233.5L179.1 232.1L181.1 230.5L183.0 229.0L185.0 227.4L186.8 225.7L188.7 224.0L190.5 222.3L192.3 220.5L194.0 218.7L195.7 216.8L197.3 214.9L198.9 213.0L200.4 211.0L201.9 209.0L203.3 206.9L204.6 204.8L205.9 202.6L207.2 200.5L208.3 198.2L209.5 196.0L210.5 193.7L211.6 191.5L212.6 189.1L213.5 186.8L214.4 184.5L215.4 182.2L216.2 179.8L217.1 177.5L218.0 175.1L218.8 172.8L219.7 170.4L220.5 168.1L221.4 165.7L222.2 163.3L223.0 161.0L223.8 158.6L224.5 156.2L225.3 153.8L226.0 151.4L226.7 149.0L227.4 146.6L228.1 144.2L228.8 141.8L229.5 139.4L230.3 137.0L231.0 134.6L231.7 132.2L232.5 129.8L233.2 127.4L233.9 125.0L234.7 122.6L235.4 120.2L236.1 117.8L236.8 115.4L237.4 113.0L238.1 110.6L238.8 108.2L239.5 105.7L240.2 103.3L240.9 100.9L241.6 98.5L242.3 96.1L243.1 93.7L243.8 91.4L244.5 89.0L245.3 86.6L246.0 84.2L246.7 81.8L247.4 79.4L248.1 77.0L248.8 74.5L249.5 72.1L250.2 69.7L250.9 67.3L251.7 64.9L252.4 62.5L253.1 60.2L253.9 57.8L254.7 55.4L255.5 53.0L256.2 50.6L257.0 48.3L257.9 45.9L258.8 43.5L259.7 41.2L260.7 38.9L261.9 36.6L263.1 34.4L264.6 32.3L266.3 30.5L268.4 29.0L270.6 28.1L273.0 27.8L275.4 28.1L277.5 29.1L279.4 30.7L281.1 32.6L282.5 34.7L283.6 37.0L284.7 39.3L285.6 41.7L286.5 44.1L287.3 46.4L288.1 48.8L288.8 51.2L289.4 53.6L290.1 56.1L290.7 58.5L291.3 60.9L291.8 63.4L292.4 65.8L292.9 68.3L293.4 70.7L293.9 73.2L294.4 75.6L294.9 78.1L295.4 80.5L295.8 83.0L296.3 85.5L296.8 87.9L297.2 90.4L297.7 92.9L298.1 95.3L298.5 97.8L298.9 100.3L299.4 102.7L299.8 105.2L300.2 107.7L300.6 110.1L301.0 112.6L301.4 115.1L301.8 117.6L302.2 120.0L302.6 122.5L302.9 125.0L303.3 127.5L303.7 130.0L304.1 132.4L304.4 134.9L304.8 137.4L305.2 139.9L305.5 142.3L305.9 144.8L306.2 147.3L306.6 149.8L307.0 152.3L307.3 154.7L307.7 157.2L308.0 159.7L308.4 162.2L308.7 164.7L309.0 167.1L309.4 169.6L309.7 172.1L310.1 174.6L310.4 177.1L310.7 179.6L311.1 182.0L311.4 184.5L311.7 187.0L312.1 189.5L312.4 192.0L312.7 194.5L313.1 196.9L313.4 199.4L313.7 201.9L314.0 204.4L314.3 206.9L314.7 209.4L315.0 211.8L315.3 214.3L315.6 216.8L315.9 219.3L316.2 221.8L316.5 224.3L316.8 226.8L317.1 229.3L317.4 231.7L317.7 234.2L318.0 236.7L318.3 239.2L318.6 241.7L318.9 244.2L319.2 246.7L319.5 249.1L319.8 251.6L320.1 254.1L320.4 256.6L320.7 259.1L321.0 261.6L321.3 264.1L321.6 266.6L321.9 269.0L322.2 271.5L322.5 274.0L322.9 276.5L323.2 279.0L323.5 281.5L323.8 284.0L324.1 286.4L324.5 288.9L324.8 291.4L325.1 293.9L325.4 296.4L325.8 298.9L326.1 301.3L326.4 303.8L326.7 306.3L327.1 308.8L327.4 311.3L327.7 313.8L328.0 316.2L328.4 318.7L328.7 321.2L329.0 323.7L329.4 326.2L329.7 328.7L330.1 331.1L330.4 333.6L330.8 336.1L331.1 338.6L331.5 341.1L331.8 343.5L332.2 346.0L332.6 348.5L333.0 351.0L333.3 353.4L333.7 355.9L334.1 358.4L334.5 360.9L334.9 363.4L335.3 365.8L335.7 368.3L336.1 370.8L336.5 373.2L336.9 375.7L337.3 378.2L337.7 380.7L338.1 383.1L338.6 385.6L339.0 388.1L339.4 390.5L339.9 393.0L340.3 395.5L340.8 397.9L341.3 400.4L341.7 402.8L342.2 405.3L342.7 407.8L343.2 410.2L343.7 412.7L344.2 415.1L344.7 417.6L345.3 420.0L345.8 422.5L346.4 424.9L347.0 427.3L347.6 429.8L348.2 432.2L348.8 434.6L349.4 437.1L350.1 439.5L350.7 441.9L351.4 444.3L352.1 446.7L352.8 449.2L353.5 451.5L354.3 453.9L355.0 456.3L355.8 458.7L356.6 461.0L357.4 463.4L358.2 465.7L359.1 468.1L360.0 470.5L361.0 472.9L362.0 475.3L363.2 477.7L364.6 479.7L366.3 481.2L368.4 482.0L370.5 481.7L372.6 480.6L374.5 479.0L376.2 477.1L377.6 474.9L378.9 472.6L380.1 470.3L381.1 467.9L382.2 465.6L383.2 463.3L384.1 461.0L385.0 458.7L385.9 456.4L386.8 454.1L387.7 451.7L388.6 449.4L389.5 447.1L390.4 444.7L391.3 442.4L392.1 440.0L393.0 437.7L393.9 435.3L394.7 432.9L395.5 430.6L396.3 428.2L397.1 425.8L397.9 423.4L398.6 421.1L399.4 418.7L400.2 416.3L401.0 413.9L401.7 411.5L402.5 409.2L403.3 406.8L404.1 404.4L404.9 402.0L405.7 399.7L406.5 397.3L407.3 394.9L408.1 392.5L409.0 390.2L409.8 387.8L410.6 385.4L411.5 383.1L412.3 380.7L413.2 378.4L414.1 376.1L415.0 373.7L416.0 371.4L416.9 369.1L417.9 366.8L418.9 364.5L419.9 362.2L420.9 359.9L422.0 357.6L423.0 355.3L424.1 353.1L425.1 350.8L426.2 348.5L427.3 346.3L428.5 344.1L429.6 341.9L430.8 339.6L432.0 337.4L433.3 335.3L434.5 333.1L435.8 331.0L437.2 328.8L438.5 326.7L439.9 324.6L441.3 322.6L442.8 320.6L444.3 318.6L445.9 316.6L447.5 314.7L449.2 312.8L450.9 311.0L452.6 309.2L454.4 307.4L456.3 305.7L458.2 304.0L460.1 302.5L462.1 300.9L464.1 299.5L466.2 298.1L468.3 296.8L470.5 295.5L472.7 294.3L475.0 293.2L477.3 292.2L479.6 291.2L481.9 290.3L484.2 289.4L486.6 288.5L489.0 287.7L491.3 286.8L493.7 286.1L496.1 285.3L498.5 284.6L500.9 283.9L503.3 283.2L505.7 282.6L508.2 282.0L510.6 281.4L513.0 280.8L515.5 280.2L517.9 279.6L520.4 279.1L522.8 278.5L525.3 278.0L527.7 277.5L530.2 277.0L532.6 276.5L535.1 276.1L537.6 275.7L540.0 275.3L542.5 274.9L545.0 274.6L547.5 274.3L550.0 274.0L552.5 273.7L555.0 273.5L557.5 273.2L559.9 273.0L562.4 272.8L564.9 272.6L567.4 272.3L569.9 272.1L572.4 271.9L574.9 271.7L577.4 271.5L579.9 271.3L582.4 271.1L584.9 270.9L587.4 270.8L589.9 270.6L592.4 270.4L594.9 270.2L597.4 270.1L599.9 269.9L602.4 269.8L604.9 269.6L607.4 269.5L609.9 269.4L612.4 269.2L614.9 269.1L617.4 268.9L619.9 268.8L622.4 268.7L624.9 268.6L627.4 268.5L629.9 268.4L632.4 268.3L634.9 268.2L637.4 268.1L640.0 268.0L642.5 268.0L645.0 267.9L647.5 267.9L650.0 267.8L652.5 267.8L655.0 267.8L657.5 267.8L660.0 267.7L662.5 267.7L665.0 267.7" fill="none" stroke="#000" stroke-width="5.5" stroke-linejoin="round"/>
<path d="M28.7 487.0H664.0" stroke="#000" stroke-width="1.9" fill="none"/>
<path d="M29.6 487.0V496.0M74.8 487.0V491.2M120.1 487.0V496.0M165.3 487.0V491.2M210.6 487.0V496.0M255.8 487.0V491.2M301.1 487.0V496.0M346.4 487.0V491.2M391.6 487.0V496.0M436.9 487.0V491.2M482.1 487.0V496.0M527.4 487.0V491.2M572.6 487.0V496.0M617.9 487.0V491.2M663.1 487.0V496.0" stroke="#000" stroke-width="1.8" fill="none"/>
<g font-family="'Liberation Serif', serif" font-weight="700" font-size="23.1" fill="#000" text-anchor="middle">
<text x="31.6" y="517.0">3508</text>
<text x="122.1" y="517.0">3509</text>
<text x="212.6" y="517.0">3510</text>
<text x="303.1" y="517.0">3511</text>
<text x="393.6" y="517.0">3512</text>
<text x="484.1" y="517.0">3513</text>
<text x="574.6" y="517.0">3514</text>
<text x="665.1" y="517.0">3515</text>
<text x="351.3" y="551.8" font-size="22.8">B(G)</text>
</g>
<path d="M373.7 32.5H422.6" stroke="#000" stroke-width="5.9" fill="none"/>
<path d="M373.7 58.7H422.6" stroke="#000" stroke-width="5.9" stroke-dasharray="10.7 28.5" fill="none"/>
<path d="M373.7 85.6H419.3" stroke="#000" stroke-width="5.9" stroke-dasharray="12.8 3.9" fill="none"/>
<path d="M373.7 114.2H423.4" stroke="#000" stroke-width="5.7" stroke-dasharray="5.5 16.6" fill="none"/>
<path d="M373.7 141.2H422.6" stroke="#9a9a9a" stroke-width="5.9" fill="none"/>
<path d="M373.7 169.1H422.6" stroke="#9a9a9a" stroke-width="5.5" stroke-dasharray="5.2 6.0" fill="none"/>
<g font-family="'Liberation Serif', serif" font-size="22.25" fill="#000">
<text x="429.6" y="40.0">cPTIO(NNO)100 µM CTRL</text>
<text x="429.6" y="66.2">t=1'</text>
<text x="429.6" y="93.1">t=10'</text>
<text x="429.6" y="121.7">t=30'</text>
<text x="429.6" y="148.7">t=60'</text>
<text x="429.6" y="176.6">t=130'</text>
</g>
</g>
<g id="panelB">
<g transform="translate(0 844.20) scale(1 0.875) translate(0 -844.20)">
<path d="M53.7 844.7L62.7 845.7L71.7 843.4L80.7 843.3L89.7 843.8L98.7 845.3L107.7 844.9L116.7 843.8L125.7 844.1L134.7 843.7L143.7 844.4L152.7 843.3L161.7 845.1L170.7 845.6L179.7 845.8L188.7 845.2L197.7 845.8L206.7 843.2L215.7 844.0L224.7 845.8L233.7 845.3L242.7 844.3L251.7 845.8L260.7 844.9L269.7 845.4L278.7 844.0L287.7 843.7L296.7 844.4L305.7 843.5L314.7 844.2L323.7 845.8L332.7 844.1L341.7 843.2L350.7 843.3L359.7 843.6L368.7 845.3L377.7 844.2L386.7 844.0L395.7 843.4L404.7 845.9L413.7 844.3L422.7 843.7L431.7 843.3L440.7 843.3L449.7 843.6L458.7 845.0L467.7 843.6L476.7 843.3L485.7 844.5L494.7 843.9L503.7 845.9L512.7 843.5L521.7 844.6L530.7 845.3L539.7 844.3L548.7 845.9L557.7 844.5L566.7 843.8L575.7 844.3L584.7 843.3L593.7 844.3L602.7 843.9L611.7 845.6L618.0 844.5" fill="none" stroke="#a2a2a2" stroke-width="5.3" stroke-dasharray="5.0 6.0" stroke-linejoin="round"/>
<path d="M53.7 844.1L62.7 843.7L71.7 844.7L80.7 843.9L89.7 843.5L98.7 844.8L107.7 846.6L116.7 846.2L125.7 846.1L134.7 844.1L143.7 845.2L152.7 844.3L161.7 843.9L170.7 843.7L179.7 844.0L188.7 846.6L197.7 846.1L206.7 845.9L215.7 845.6L224.7 843.1L233.7 843.1L242.7 843.8L251.7 843.8L260.7 844.0L269.7 844.0L278.7 841.2L287.7 843.4L296.7 844.0L305.7 843.9L314.7 843.1L323.7 844.6L332.7 843.6L341.7 847.1L350.7 847.2L359.7 846.4L368.7 845.9L377.7 848.5L386.7 847.5L395.7 848.8L404.7 848.7L413.7 847.3L422.7 846.7L431.7 847.0L440.7 846.0L449.7 844.7L458.7 845.0L467.7 846.6L476.7 843.7L485.7 843.6L494.7 845.6L503.7 844.3L512.7 845.3L521.7 845.0L530.7 844.5L539.7 846.9L548.7 844.0L557.7 844.8L566.7 844.0L575.7 845.6L584.7 844.3L593.7 844.6L602.7 846.0L611.7 844.5L618.0 845.1" fill="none" stroke="#9a9a9a" stroke-width="5.6" stroke-dasharray="11.3 28" stroke-linejoin="round"/>
<path d="M53.7 844.0L56.2 844.0L58.7 844.0L61.2 844.1L63.8 844.1L66.3 844.1L68.8 844.2L71.3 844.2L73.8 844.2L76.3 844.2L78.9 844.3L81.4 844.3L83.9 844.3L86.4 844.3L88.9 844.3L91.4 844.3L94.0 844.3L96.5 844.3L99.0 844.3L101.5 844.3L104.0 844.3L106.5 844.3L109.1 844.3L111.6 844.3L114.1 844.3L116.6 844.3L119.1 844.2L121.6 844.2L124.2 844.1L126.7 844.1L129.2 844.0L131.7 844.0L134.2 843.9L136.7 843.8L139.2 843.8L141.8 843.7L144.3 843.6L146.8 843.5L149.3 843.4L151.8 843.3L154.3 843.2L156.9 843.0L159.4 842.9L161.9 842.7L164.4 842.5L166.9 842.4L169.4 842.2L171.9 842.0L174.4 841.8L176.9 841.5L179.4 841.3L182.0 841.0L184.5 840.7L187.0 840.4L189.5 840.1L192.0 839.8L194.5 839.5L197.0 839.1L199.5 838.8L201.9 838.4L204.4 838.0L206.9 837.7L209.4 837.3L211.9 836.9L214.4 836.5L216.9 836.1L219.4 835.7L221.9 835.3L224.4 834.9L226.9 834.5L229.4 834.1L231.9 833.7L234.4 833.4L236.9 833.0L239.4 832.6L241.9 832.3L244.4 832.0L246.9 831.7L249.4 831.4L251.9 831.2L254.4 831.0L256.9 830.8L259.4 830.6L261.9 830.4L264.5 830.3L267.0 830.2L269.5 830.2L272.0 830.2L274.5 830.2L277.0 830.2L279.6 830.3L282.1 830.5L284.6 830.6L287.1 830.8L289.6 831.1L292.1 831.4L294.6 831.8L297.1 832.2L299.6 832.7L302.0 833.2L304.5 833.8L306.9 834.4L309.4 835.1L311.8 835.9L314.2 836.6L316.7 837.4L319.1 838.3L321.5 839.1L323.9 840.0L326.3 840.8L328.7 841.7L331.1 842.6L333.4 843.6L335.8 844.6L338.2 845.6L340.5 846.6L342.9 847.7L345.2 848.6L347.6 849.6L350.0 850.5L352.4 851.3L354.8 852.0L357.2 852.7L359.7 853.3L362.1 853.9L364.6 854.5L367.1 855.0L369.6 855.5L372.0 856.0L374.5 856.4L377.0 856.8L379.5 857.2L382.0 857.5L384.5 857.8L387.1 858.1L389.6 858.3L392.1 858.5L394.6 858.7L397.1 858.8L399.6 858.9L402.2 859.0L404.7 859.1L407.2 859.1L409.7 859.0L412.2 858.9L414.7 858.8L417.2 858.7L419.7 858.4L422.2 858.2L424.8 857.9L427.3 857.6L429.8 857.3L432.3 856.9L434.7 856.6L437.2 856.2L439.7 855.8L442.2 855.4L444.7 855.0L447.2 854.6L449.7 854.2L452.2 853.8L454.7 853.4L457.2 853.0L459.7 852.6L462.2 852.2L464.7 851.9L467.2 851.6L469.7 851.2L472.2 850.9L474.7 850.6L477.2 850.4L479.7 850.1L482.2 849.9L484.7 849.7L487.2 849.5L489.7 849.3L492.2 849.1L494.8 848.9L497.3 848.8L499.8 848.6L502.3 848.4L504.8 848.3L507.3 848.1L509.8 848.0L512.3 847.8L514.9 847.7L517.4 847.6L519.9 847.4L522.4 847.3L524.9 847.2L527.4 847.1L529.9 847.0L532.5 846.9L535.0 846.8L537.5 846.7L540.0 846.6L542.5 846.5L545.0 846.5L547.5 846.4L550.1 846.4L552.6 846.3L555.1 846.3L557.6 846.3L560.1 846.2L562.6 846.2L565.2 846.2L567.7 846.2L570.2 846.1L572.7 846.1L575.2 846.1L577.7 846.1L580.3 846.1L582.8 846.1L585.3 846.1L587.8 846.1L590.3 846.0L592.8 846.0L595.4 846.0L597.9 846.0L600.4 846.0L602.9 846.0L605.4 846.0L607.9 846.0L610.5 846.0L613.0 846.0L615.5 846.0L618.0 846.0" fill="none" stroke="#9a9a9a" stroke-width="5.6" stroke-linejoin="round"/>
<path d="M53.7 842.3L59.1 842.1L64.5 841.9L69.9 841.8L75.3 841.6L80.7 841.3L86.1 841.1L91.5 840.8L96.9 840.4L102.3 840.1L107.7 839.7L113.1 839.3L118.5 838.8L123.9 838.3L129.3 838.1L134.7 837.5L140.1 837.2L145.5 837.3L150.9 835.9L156.3 834.4L161.7 836.1L167.1 834.7L172.5 834.1L177.9 833.0L183.3 833.1L188.7 829.7L194.1 829.4L199.5 825.9L204.9 824.0L210.3 821.4L215.7 817.2L221.1 813.9L226.5 813.7L231.9 814.1L237.3 813.2L242.7 809.7L248.1 802.7L253.5 804.1L258.9 806.7L264.3 806.2L269.7 806.2L275.1 803.5L280.5 801.9L285.9 799.5L291.3 802.5L296.7 809.5L302.1 815.0L307.5 819.8L312.9 822.4L318.3 826.9L323.7 831.1L329.1 836.1L334.5 843.4L339.9 848.0L345.3 852.0L350.7 856.1L356.1 862.7L361.5 866.2L366.9 870.0L372.3 871.8L377.7 877.2L383.1 880.7L388.5 879.4L393.9 880.2L399.3 878.0L404.7 882.0L410.1 880.1L415.5 881.4L420.9 878.1L426.3 878.2L431.7 876.3L437.1 875.9L442.5 872.8L447.9 871.1L453.3 868.9L458.7 869.2L464.1 866.0L469.5 861.9L474.9 861.8L480.3 858.1L485.7 856.3L491.1 854.9L496.5 855.2L501.9 853.4L507.3 854.9L512.7 854.3L518.1 852.0L523.5 851.5L528.9 852.2L534.3 851.4L539.7 851.9L545.1 852.0L550.5 851.6L555.9 851.8L561.3 852.2L566.7 852.3L572.1 852.4L577.5 852.5L582.9 852.0L588.3 851.3L593.7 850.6L599.1 850.0L604.5 849.8L609.9 849.6L615.3 849.4L618.0 849.2" fill="none" stroke="#000" stroke-width="5.8" stroke-dasharray="0 17.5 5.2 6.4 5.2 6.5" stroke-dashoffset="2.5" stroke-linejoin="round"/>
<path d="M53.7 842.3L59.1 842.1L64.5 841.9L69.9 841.8L75.3 841.6L80.7 841.3L86.1 841.1L91.5 840.8L96.9 840.4L102.3 840.1L107.7 839.7L113.1 839.3L118.5 838.8L123.9 838.5L129.3 838.1L134.7 837.0L140.1 838.0L145.5 837.8L150.9 836.7L156.3 836.1L161.7 833.9L167.1 832.7L172.5 833.7L177.9 831.1L183.3 830.4L188.7 829.2L194.1 826.9L199.5 826.3L204.9 823.6L210.3 822.0L215.7 817.9L221.1 815.8L226.5 813.8L231.9 813.9L237.3 812.7L242.7 809.1L248.1 803.9L253.5 806.9L258.9 809.0L264.3 807.5L269.7 804.5L275.1 803.7L280.5 802.5L285.9 799.4L291.3 805.0L296.7 809.9L302.1 815.9L307.5 818.3L312.9 824.5L318.3 828.6L323.7 830.1L329.1 835.8L334.5 843.8L339.9 847.7L345.3 854.5L350.7 857.1L356.1 860.3L361.5 866.0L366.9 869.8L372.3 871.9L377.7 875.6L383.1 878.7L388.5 880.7L393.9 879.6L399.3 877.9L404.7 879.5L410.1 880.2L415.5 880.1L420.9 880.7L426.3 876.1L431.7 875.9L437.1 874.1L442.5 870.7L447.9 870.4L453.3 867.5L458.7 868.0L464.1 863.8L469.5 862.1L474.9 859.2L480.3 857.7L485.7 858.9L491.1 857.4L496.5 854.7L501.9 855.6L507.3 852.7L512.7 852.8L518.1 853.6L523.5 852.7L528.9 851.4L534.3 852.6L539.7 851.5L545.1 851.5L550.5 851.9L555.9 851.7L561.3 851.9L566.7 852.1L572.1 852.3L577.5 852.3L582.9 851.7L588.3 851.2L593.7 850.4L599.1 850.0L604.5 849.9L609.9 849.5L615.3 849.3L618.0 849.2" fill="none" stroke="#000" stroke-width="6.199999999999999" stroke-dasharray="12 28.8" stroke-dashoffset="4.6" stroke-linejoin="round"/>
<path d="M53.7 841.9L56.2 841.8L58.7 841.8L61.2 841.7L63.7 841.6L66.2 841.4L68.7 841.3L71.2 841.2L73.7 841.0L76.2 840.9L78.7 840.7L81.2 840.4L83.7 840.2L86.2 839.9L88.7 839.6L91.2 839.3L93.7 839.0L96.2 838.6L98.7 838.2L101.2 837.8L103.6 837.4L106.1 837.0L108.6 836.6L111.1 836.2L113.6 835.7L116.1 835.3L118.5 834.8L121.0 834.3L123.5 833.8L125.9 833.3L128.4 832.7L130.8 832.1L133.3 831.4L135.7 830.7L138.1 829.9L140.5 829.0L142.9 828.1L145.2 827.2L147.6 826.2L149.9 825.1L152.2 823.9L154.5 822.7L156.8 821.5L159.0 820.2L161.2 818.8L163.4 817.4L165.5 815.9L167.6 814.3L169.6 812.6L171.6 810.8L173.5 809.0L175.4 807.1L177.2 805.1L179.0 803.0L180.7 800.9L182.3 798.8L183.9 796.6L185.5 794.3L187.0 792.0L188.5 789.7L189.9 787.4L191.3 785.0L192.7 782.6L194.1 780.2L195.4 777.8L196.8 775.3L198.1 772.9L199.3 770.4L200.6 768.0L201.9 765.5L203.1 763.0L204.3 760.5L205.6 758.0L206.7 755.5L207.9 752.9L209.1 750.4L210.3 747.9L211.4 745.3L212.5 742.8L213.7 740.2L214.8 737.6L215.9 735.1L216.9 732.5L218.0 729.9L219.1 727.3L220.1 724.7L221.2 722.1L222.2 719.5L223.3 716.9L224.3 714.3L225.4 711.7L226.4 709.1L227.5 706.5L228.5 703.9L229.6 701.3L230.7 698.7L231.8 696.1L232.9 693.6L234.1 691.0L235.2 688.5L236.4 685.9L237.5 683.4L238.7 680.9L239.9 678.4L241.1 675.8L242.4 673.4L243.6 670.9L244.9 668.4L246.2 666.0L247.6 663.5L249.0 661.2L250.4 658.8L252.0 656.4L253.5 654.1L255.2 651.9L256.9 649.7L258.7 647.7L260.7 645.9L262.7 644.2L264.9 642.8L267.2 641.7L269.6 641.0L272.0 640.8L274.4 641.0L276.7 641.6L279.0 642.7L281.2 644.1L283.2 645.8L285.1 647.7L286.8 649.9L288.4 652.1L289.8 654.6L291.2 657.0L292.4 659.5L293.6 662.1L294.7 664.7L295.7 667.3L296.7 670.0L297.6 672.7L298.5 675.4L299.4 678.0L300.3 680.7L301.2 683.4L302.0 686.1L302.9 688.8L303.7 691.5L304.5 694.2L305.3 697.0L306.0 699.7L306.8 702.4L307.5 705.2L308.3 707.9L309.0 710.6L309.7 713.4L310.3 716.2L311.0 718.9L311.7 721.7L312.3 724.4L313.0 727.2L313.6 730.0L314.3 732.7L314.9 735.5L315.6 738.3L316.2 741.1L316.8 743.8L317.5 746.6L318.1 749.4L318.7 752.2L319.3 754.9L319.9 757.7L320.5 760.5L321.1 763.3L321.7 766.1L322.3 768.8L322.9 771.6L323.5 774.4L324.0 777.2L324.6 780.0L325.1 782.8L325.7 785.6L326.2 788.4L326.8 791.2L327.3 794.0L327.9 796.8L328.4 799.6L328.9 802.4L329.4 805.2L329.9 808.0L330.4 810.8L331.0 813.6L331.5 816.4L332.0 819.2L332.5 822.0L333.0 824.8L333.5 827.6L334.0 830.4L334.5 833.2L335.0 836.0L335.5 838.8L336.1 841.6L336.6 844.5L337.1 847.2L337.7 850.0L338.2 852.8L338.8 855.6L339.3 858.4L339.9 861.2L340.5 864.0L341.0 866.8L341.6 869.6L342.2 872.4L342.8 875.2L343.4 877.9L344.0 880.7L344.6 883.5L345.2 886.3L345.8 889.1L346.4 891.8L347.0 894.6L347.6 897.4L348.2 900.2L348.8 903.0L349.4 905.7L350.0 908.5L350.6 911.3L351.2 914.1L351.9 916.9L352.5 919.6L353.1 922.4L353.7 925.2L354.3 928.0L355.0 930.7L355.6 933.5L356.3 936.3L356.9 939.0L357.6 941.8L358.2 944.6L358.9 947.3L359.6 950.1L360.3 952.8L361.0 955.6L361.7 958.4L362.4 961.1L363.1 963.8L363.8 966.6L364.6 969.3L365.4 972.0L366.2 974.7L367.0 977.4L367.9 980.1L368.8 982.8L369.7 985.5L370.6 988.1L371.5 990.8L372.5 993.4L373.4 996.1L374.4 998.7L375.4 1001.4L376.4 1004.0L377.5 1006.6L378.6 1009.2L379.7 1011.8L381.0 1014.4L382.3 1016.9L383.7 1019.4L385.2 1021.7L386.9 1023.9L388.7 1026.0L390.6 1027.8L392.7 1029.3L394.8 1030.4L397.1 1031.0L399.4 1031.0L401.8 1030.4L404.1 1029.4L406.3 1028.1L408.4 1026.5L410.4 1024.7L412.3 1022.7L414.1 1020.7L415.9 1018.5L417.5 1016.4L419.1 1014.1L420.6 1011.8L422.1 1009.5L423.4 1007.1L424.7 1004.6L426.0 1002.2L427.2 999.7L428.4 997.1L429.6 994.6L430.8 992.1L432.0 989.5L433.2 987.0L434.4 984.5L435.6 982.0L436.8 979.5L438.0 977.0L439.2 974.5L440.5 972.0L441.7 969.5L442.9 967.0L444.1 964.4L445.3 961.9L446.5 959.4L447.7 956.9L448.9 954.4L450.1 951.9L451.4 949.4L452.6 946.9L453.9 944.4L455.1 941.9L456.4 939.5L457.7 937.0L459.0 934.6L460.3 932.1L461.7 929.7L463.0 927.3L464.4 925.0L465.9 922.6L467.3 920.3L468.8 917.9L470.3 915.7L471.8 913.4L473.4 911.1L474.9 908.9L476.5 906.7L478.1 904.5L479.8 902.3L481.4 900.1L483.1 898.0L484.8 895.9L486.6 893.8L488.4 891.9L490.2 889.9L492.1 888.0L494.0 886.2L496.0 884.4L498.0 882.7L500.0 881.0L502.1 879.3L504.1 877.7L506.2 876.2L508.4 874.7L510.6 873.3L512.8 871.9L515.0 870.6L517.3 869.4L519.6 868.3L521.9 867.2L524.2 866.1L526.6 865.1L529.0 864.2L531.3 863.3L533.7 862.5L536.1 861.6L538.6 860.9L541.0 860.2L543.4 859.5L545.9 859.0L548.4 858.5L550.8 858.0L553.3 857.6L555.8 857.2L558.3 856.8L560.8 856.4L563.2 856.0L565.7 855.5L568.2 855.1L570.7 854.7L573.1 854.2L575.6 853.8L578.1 853.3L580.6 852.9L583.1 852.4L585.5 852.0L588.0 851.6L590.5 851.2L593.0 850.8L595.5 850.5L598.0 850.3L600.5 850.1L603.0 849.9L605.5 849.7L608.0 849.5L610.5 849.4L613.0 849.3L615.5 849.2L618.0 849.1" fill="none" stroke="#000" stroke-width="5.6" stroke-linejoin="round"/>
</g>
<path d="M54.0 1052.8H618.0" stroke="#000" stroke-width="1.8" fill="none"/>
<path d="M54.8 1052.8V1060.2M125.1 1052.8V1056.5M195.4 1052.8V1060.2M265.7 1052.8V1056.5M336.0 1052.8V1060.2M406.3 1052.8V1056.5M476.6 1052.8V1060.2M546.9 1052.8V1056.5M617.2 1052.8V1060.2" stroke="#000" stroke-width="1.6" fill="none"/>
<g font-family="'Liberation Serif', serif" font-weight="700" font-size="23.1" fill="#000" text-anchor="middle">
<text x="59.2" y="1078.9">3496</text>
<text x="199.8" y="1078.9">3497</text>
<text x="340.4" y="1078.9">3498</text>
<text x="481.0" y="1078.9">3499</text>
<text x="621.6" y="1078.9">3500</text>
<text x="299.4" y="1100.5" font-size="22.8">B(G)</text>
</g>
<path d="M373.7 615.5H417.0" stroke="#000" stroke-width="5.4" fill="none"/>
<path d="M373.7 639.2H412.9" stroke="#000" stroke-width="5.4" stroke-dasharray="11.4 16.1" fill="none"/>
<path d="M373.7 663.6H401.5" stroke="#000" stroke-width="5.3" stroke-dasharray="5.3 16.7" fill="none"/>
<path d="M373.7 687.5H417.4" stroke="#9a9a9a" stroke-width="5.4" fill="none"/>
<path d="M373.7 711.9H417.9" stroke="#9a9a9a" stroke-width="5.4" stroke-dasharray="11.3 27.9" fill="none"/>
<path d="M373.7 735.6H413.0" stroke="#9a9a9a" stroke-width="5.2" stroke-dasharray="5.2 5.9" fill="none"/>
<g font-family="'Liberation Serif', serif" font-size="22.3" fill="#000">
<text transform="translate(422.6 620.9) scale(1 0.96)">cPTIO(INO)100 µM CTRL</text>
<text transform="translate(424.0 645.4) scale(1 0.96)">t=1'</text>
<text transform="translate(424.0 669.8) scale(1 0.96)">t=10'</text>
<text transform="translate(424.0 694.2) scale(1 0.96)">t=30'</text>
<text transform="translate(424.0 718.7) scale(1 0.96)">t=60'</text>
<text transform="translate(424.0 743.1) scale(1 0.96)">t=130'</text>
</g>
</g>
<g id="panelC">
<rect x="114.2" y="1235.9" width="23.8" height="203.4" fill="#000"/>
<rect x="138.0" y="1235.9" width="23.8" height="203.4" fill="#404040"/>
<rect x="197.7" y="1303.1" width="23.8" height="136.2" fill="#000"/>
<rect x="221.5" y="1392.5" width="23.8" height="46.8" fill="#404040"/>
<rect x="281.3" y="1362.0" width="23.8" height="77.3" fill="#000"/>
<rect x="305.1" y="1399.6" width="23.8" height="39.7" fill="#404040"/>
<rect x="364.8" y="1374.2" width="23.8" height="65.1" fill="#000"/>
<rect x="388.6" y="1425.1" width="23.8" height="14.2" fill="#404040"/>
<rect x="448.4" y="1415.9" width="23.8" height="23.4" fill="#000"/>
<rect x="472.2" y="1434.2" width="23.8" height="5.1" fill="#404040"/>
<rect x="531.9" y="1433.2" width="23.8" height="6.1" fill="#000"/>
<rect x="555.7" y="1439.0" width="23.8" height="0.3" fill="#404040"/>
<path d="M126.1 1225.8V1246.1M121.9 1225.8H130.3M121.9 1246.1H130.3M149.9 1225.8V1246.1M145.7 1225.8H154.1M145.7 1246.1H154.1M209.6 1296.3V1309.8M205.7 1296.3H213.5M205.7 1309.8H213.5M233.4 1389.9V1395.2M229.5 1389.9H237.3M229.5 1395.2H237.3M293.2 1357.8V1366.3M289.3 1357.8H297.1M289.3 1366.3H297.1M317.0 1397.6V1401.7M313.1 1397.6H320.9M313.1 1401.7H320.9M376.7 1370.8V1377.7M372.8 1370.8H380.6M372.8 1377.7H380.6M400.5 1423.8V1426.3M396.6 1423.8H404.4M396.6 1426.3H404.4M460.3 1414.5V1417.3M456.4 1414.5H464.2M456.4 1417.3H464.2M484.1 1433.4V1435.0M480.2 1433.4H488.0M480.2 1435.0H488.0M543.8 1432.4V1434.0M539.9 1432.4H547.7M539.9 1434.0H547.7" stroke="#858585" stroke-width="1.6" fill="none"/>
<path d="M96.2 1194.5V1444.6" stroke="#898989" stroke-width="1.8" fill="none"/>
<path d="M90.2 1439.3H598.4" stroke="#898989" stroke-width="1.8" fill="none"/>
<path d="M179.8 1439.3V1444.6M263.3 1439.3V1444.6M346.8 1439.3V1444.6M430.4 1439.3V1444.6M514.0 1439.3V1444.6M597.5 1439.3V1444.6M90.2 1398.6H96.2M90.2 1358.0H96.2M90.2 1317.3H96.2M90.2 1276.6H96.2M90.2 1235.9H96.2M90.2 1195.3H96.2" stroke="#898989" stroke-width="1.7" fill="none"/>
<g font-family="'Liberation Serif', serif" font-size="22.7" fill="#000" text-anchor="end">
<text x="84.6" y="1405.0">20</text>
<text x="84.6" y="1364.4">40</text>
<text x="84.6" y="1323.7">60</text>
<text x="84.6" y="1283.0">80</text>
<text x="84.6" y="1242.3">100</text>
<text x="84.6" y="1201.7">120</text>
<text x="81.9" y="1445.8" font-weight="700" font-size="23.2">0</text>
</g>
<g font-family="'Liberation Serif', serif" font-weight="700" font-size="22.4" fill="#000" text-anchor="middle">
<text x="144.2" y="1466.8">CTRL</text>
<text x="221.7" y="1466.8">1</text>
<text x="306.8" y="1466.8">10</text>
<text x="389.4" y="1466.8">30</text>
<text x="473.9" y="1466.8">60</text>
<text x="558.8" y="1466.8">130</text>
<text x="394.5" y="1495.6" font-size="22.6">minutes</text>
<text transform="translate(37.3 1302.6) rotate(-90)" font-size="22.5">% of CTRL</text>
</g>
<g font-family="'Liberation Serif', serif" font-size="22.0" fill="#000" text-anchor="middle">
<text x="209.9" y="1289.8">a</text>
<text x="233.6" y="1384.0">bc</text>
<text x="293.2" y="1352.0">a</text>
<text x="316.3" y="1392.2">c</text>
<text x="401.0" y="1417.9">bc</text>
<text x="461.0" y="1408.5">a</text>
<text x="484.9" y="1428.4">bc</text>
<text x="544.4" y="1427.6">a</text>
<text x="576.4" y="1432.7">bc</text>
</g>
<rect x="567.8" y="1248.5" width="13.3" height="13.3" fill="#000"/>
<rect x="567.8" y="1288.9" width="13.3" height="13.3" fill="#404040"/>
<g font-family="'Liberation Serif', serif" font-size="28.9" fill="#000">
<text x="586.7" y="1263.6">NNO</text>
<text x="586.7" y="1304.0">INO</text>
</g>
</g>
</svg>
</body>
</html>
